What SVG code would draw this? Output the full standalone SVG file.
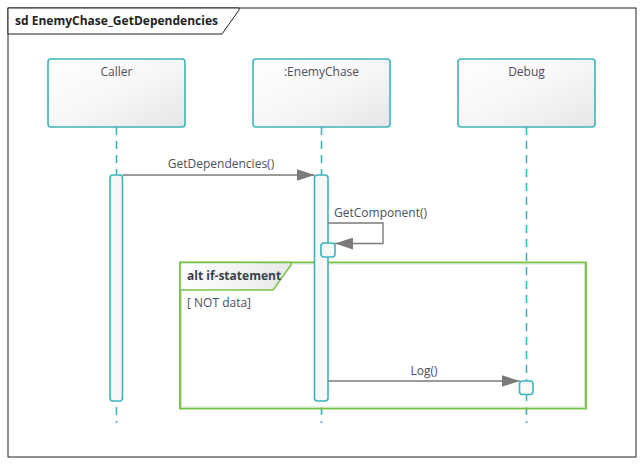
<svg xmlns="http://www.w3.org/2000/svg" width="644" height="465" viewBox="0 0 644 465">
<defs>
<linearGradient id="g" x1="0" y1="0" x2="1" y2="1">
<stop offset="0" stop-color="#ffffff"/>
<stop offset="0.5" stop-color="#f7f7f7"/>
<stop offset="1" stop-color="#e6e6e6"/>
</linearGradient>
<linearGradient id="lg" x1="0" y1="0" x2="1" y2="0">
<stop offset="0" stop-color="#ffffff"/>
<stop offset="1" stop-color="#e8e8e8"/>
</linearGradient>
<marker id="arr" markerWidth="18" markerHeight="12" refX="18" refY="6" orient="auto" markerUnits="userSpaceOnUse">
<path d="M0,0 L18,6 L0,12 Z" fill="#7a7a7a"/>
</marker>
<style>
text{font-family:"Open Sans","Noto Sans","Liberation Sans",sans-serif;font-size:12px;fill:#4a4f5c}
.b{font-weight:bold;fill:#222}
.box{fill:url(#g);stroke:#3cb4bc;stroke-width:1.6}
.life{stroke:#3cb4bc;stroke-width:1.6;stroke-dasharray:8,6;fill:none}
.act{fill:#f8f8f8;stroke:#3cb4bc;stroke-width:1.6}
.msg{stroke:#7a7a7a;stroke-width:1.4;fill:none}
</style>
</defs>
<rect x="0" y="0" width="644" height="465" fill="#ffffff"/>
<g id="frame">
<rect x="8" y="8" width="628" height="449" fill="none" stroke="#222" stroke-width="1"/>
<path d="M8,8 L239,8 L239,10 L222,34 L8,34 Z" fill="#fff" stroke="#222" stroke-width="1"/>
<text x="15" y="25" class="b" textLength="203" lengthAdjust="spacingAndGlyphs">sd EnemyChase_GetDependencies</text>
</g>
<g id="lifelines">
<line class="life" x1="116.5" y1="127" x2="116.5" y2="423"/>
<line class="life" x1="321.5" y1="127" x2="321.5" y2="423"/>
<line class="life" x1="526.5" y1="127" x2="526.5" y2="423"/>
</g>
<g id="caller">
<rect class="box" x="48" y="59" width="137" height="68" rx="3"/>
<text x="116.5" y="76" text-anchor="middle">Caller</text>
</g>
<g id="enemychase">
<rect class="box" x="253" y="59" width="137" height="68" rx="3"/>
<text x="321.5" y="76" text-anchor="middle">:EnemyChase</text>
</g>
<g id="debug">
<rect class="box" x="458" y="59" width="137" height="68" rx="3"/>
<text x="526.5" y="76" text-anchor="middle">Debug</text>
</g>
<g id="alt-fragment">
<rect x="180" y="262.5" width="406" height="146" fill="none" stroke="#7cc24a" stroke-width="2"/>
<rect x="181.5" y="264" width="403" height="143" fill="none" stroke="#d8e8cc" stroke-width="1"/>
<path d="M180,262.5 L291,262.5 L291,265 L273,290 L180,290 Z" fill="url(#lg)" stroke="#7cc24a" stroke-width="1.6"/>
<text x="187" y="280" class="b" style="fill:#3a3f4c">alt if-statement</text>
<text x="187" y="307">[ NOT data]</text>
</g>
<g id="activations">
<rect class="act" x="110" y="175" width="12.5" height="226" rx="3"/>
<rect class="act" x="314.5" y="175" width="13.5" height="226" rx="3"/>
<rect class="act" x="321" y="243" width="14" height="14" rx="3"/>
<rect class="act" x="519.5" y="381" width="13.5" height="13.5" rx="3"/>
</g>
<g id="connectors">
<line class="msg" x1="122.5" y1="175" x2="314.5" y2="175" marker-end="url(#arr)"/>
<text x="221" y="168" text-anchor="middle">GetDependencies()</text>
<path class="msg" d="M328,223 L383,223 L383,243.5 L335,243.5" marker-end="url(#arr)"/>
<text x="334" y="217">GetComponent()</text>
<line class="msg" x1="328" y1="381" x2="519.5" y2="381" marker-end="url(#arr)"/>
<text x="424" y="375" text-anchor="middle">Log()</text>
</g>
</svg>
